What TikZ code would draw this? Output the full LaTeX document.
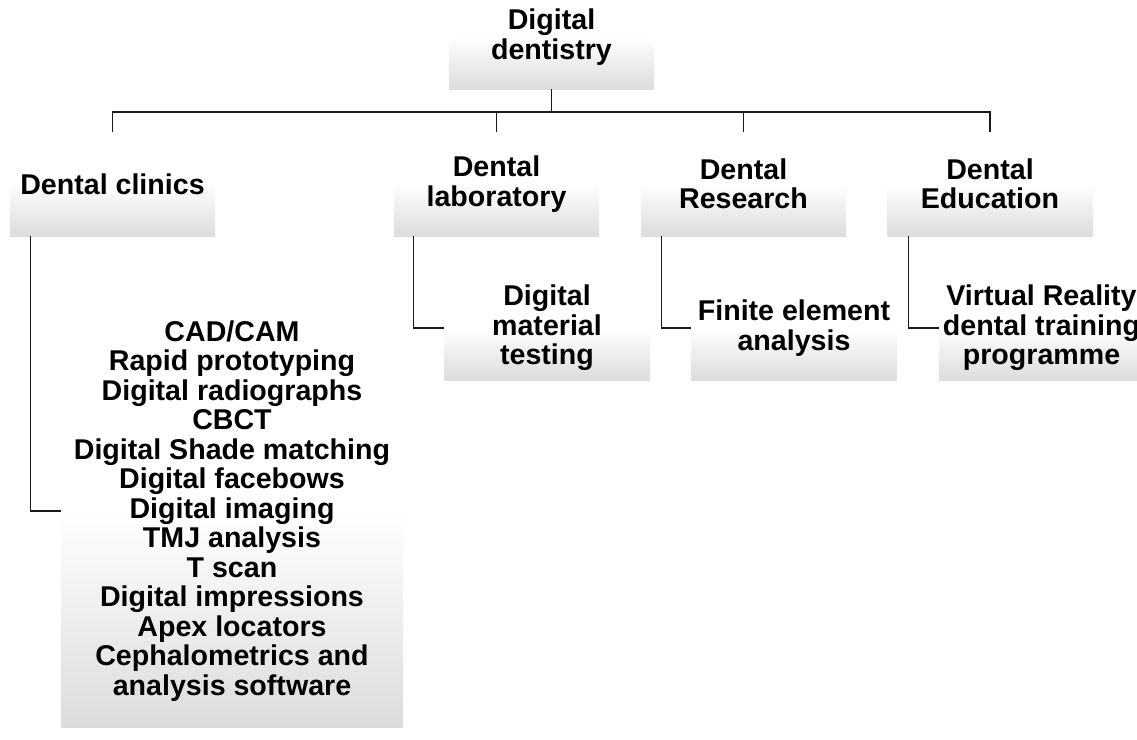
\documentclass[tikz,border=0pt]{standalone}
\usepackage{fontspec}
\setmainfont{Liberation Sans}
\begin{document}
\begin{tikzpicture}[x=1pt,y=-1pt,
  box/.style={shape=rectangle, inner sep=0pt, minimum width=205pt, minimum height=104pt,
    top color=white, bottom color=boxgray, middle color=white, align=center,
    font=\fontsize{28.6}{29.5}\selectfont\bfseries, text=black},
  link/.style={draw=black!90, line width=1.3pt}]
\definecolor{boxgray}{RGB}{220,220,220}
\clip (0,0) rectangle (1137,739);
\fill[white] (0,0) rectangle (1137,739);

% top level
\node[box] (root) at (551.5,37) {Digital\\dentistry};

% second level
\node[box] (clin) at (112.5,184) {Dental clinics};
\node[box] (lab)  at (496.5,184) {Dental\\laboratory};
\node[box] (res)  at (743.5,184) {Dental\\Research};
\node[box] (edu)  at (990,184)   {Dental\\Education};

% third level
\node[box, minimum width=342pt, minimum height=432pt] (cad) at (232,511)
  {CAD/CAM\\Rapid prototyping\\Digital radiographs\\CBCT\\Digital Shade matching\\
   Digital facebows\\Digital imaging\\TMJ analysis\\T scan\\Digital impressions\\
   Apex locators\\Cephalometrics and\\analysis software};
\node[box] (mat) at (547,328)    {Digital\\material\\testing};
\node[box] (fea) at (794,328)    {Finite element\\analysis};
\node[box] (vr)  at (1041.5,328) {Virtual Reality\\dental training\\programme};

% bus from the top node to the second level
\coordinate (bus) at (0,112);
\foreach \c in {clin,lab,res,edu}
  \draw[link] (root.south) -- (root.south |- bus) -| (\c.north);

% elbows from the second level down to the third
\draw[link] ([xshift=21pt]clin.south west) |- (cad.west);
\draw[link] ([xshift=20pt]lab.south west)  |- (mat.west);
\draw[link] ([xshift=21pt]res.south west)  |- (fea.west);
\draw[link] ([xshift=21pt]edu.south west)  |- (vr.west);
\end{tikzpicture}
\end{document}
